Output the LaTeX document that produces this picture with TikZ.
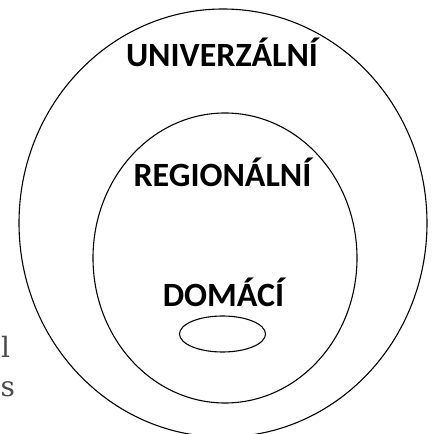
\documentclass[tikz,border=0pt]{standalone}
\usepackage{fontspec}
\newfontfamily\labelfont{Carlito}
\newfontfamily\sidefont{DejaVu Serif}
\usetikzlibrary{shapes.geometric}
\definecolor{sidegray}{HTML}{4A4A4A}
\tikzset{
  ring/.style={ellipse, draw=black, line width=1.1pt, inner sep=0pt},
  lbl/.style={anchor=base, inner sep=0pt, font=\labelfont\bfseries\fontsize{34}{40}\selectfont},
  side/.style={anchor=base west, inner sep=0pt, text=sidegray, font=\sidefont\fontsize{28}{34}\selectfont}
}
\begin{document}
\begin{tikzpicture}[x=1pt,y=1pt]
\useasboundingbox (0,0) rectangle (433,434);
\node[ring, minimum width=408pt, minimum height=428pt] (outer) at (223,211) {};
\node[ring, minimum width=264pt, minimum height=290pt] (inner) at (225,176) {};
\node[ring, minimum width=86pt, minimum height=36pt] (small) at (222.5,100) {};
\node[lbl] (univ) at (222,367) {UNIVERZÁLNÍ};
\node[lbl] (reg) at (222.5,247) {REGIONÁLNÍ};
\node[lbl] (dom) at (223.5,127) {DOMÁCÍ};
\node[side] (s1) at (1,76) {l};
\node[side] (s2) at (0.5,37) {s};
\end{tikzpicture}
\end{document}
